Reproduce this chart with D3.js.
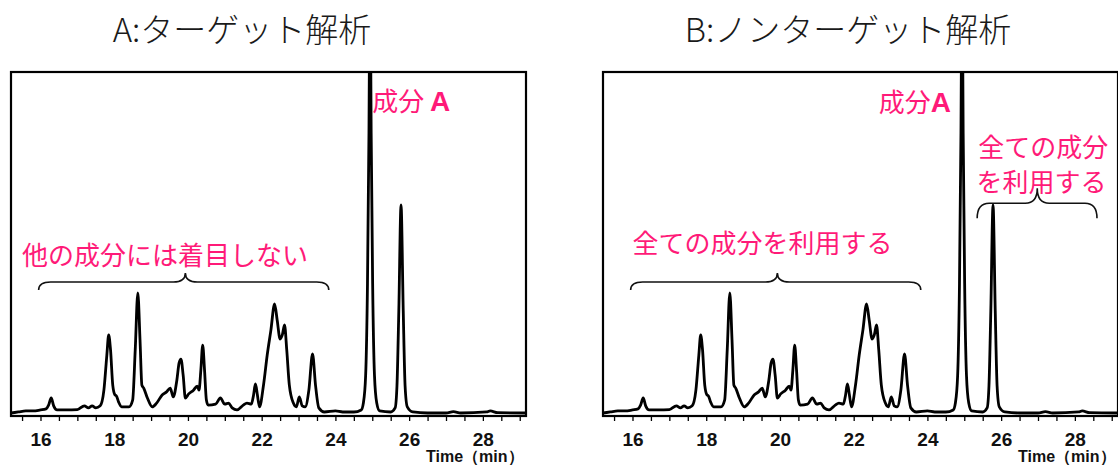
<!DOCTYPE html>
<html>
<head>
<meta charset="utf-8">
<script src="https://cdn.jsdelivr.net/npm/d3@7"></script>
<style>
  body { margin: 0; background: #fff; }
  svg { display: block; }
</style>
</head>
<body>
<svg id="chart" width="1118" height="465"></svg>
<script>
// chromatogram trace (time in min, relative intensity, 100 = top of frame)
var times = [15.20, 15.40, 15.60, 15.80, 16.00, 16.15, 16.22, 16.29, 16.36, 16.45, 16.70, 17.00, 17.19, 17.30,
  17.40, 17.50, 17.62, 17.72, 17.80, 17.85, 17.90, 17.96, 18.02, 18.06, 18.12, 18.20, 18.40, 18.50, 18.57,
  18.64, 18.70, 18.75, 18.80, 18.90, 19.03, 19.15, 19.30, 19.42, 19.52, 19.60, 19.70, 19.76, 19.81, 19.87,
  19.93, 20.02, 20.15, 20.25, 20.30, 20.35, 20.40, 20.45, 20.50, 20.55, 20.75, 20.88, 21.00, 21.10, 21.20,
  21.33, 21.50, 21.60, 21.72, 21.78, 21.83, 21.88, 21.94, 22.05, 22.15, 22.25, 22.35, 22.42, 22.50, 22.56,
  22.62, 22.68, 22.75, 22.86, 22.94, 23.02, 23.10, 23.18, 23.28, 23.38, 23.46, 23.55, 23.70, 24.00, 24.20,
  24.50, 24.70, 24.76, 24.82, 24.87, 24.91, 24.94, 24.97, 25.01, 25.06, 25.12, 25.20, 25.50, 25.62, 25.67,
  25.72, 25.78, 25.84, 25.89, 25.95, 26.10, 26.50, 27.00, 27.20, 27.40, 28.10, 28.20, 28.40, 29.20];
var intensity = [0.0, 0.3, 0.6, 0.6, 0.9, 1.2, 2.3, 4.4, 2.0, 0.9, 0.9, 1.0, 2.1, 1.5,
  2.1, 1.5, 2.1, 6.7, 17.0, 22.9, 18.5, 8.2, 5.3, 5.0, 3.2, 1.8, 1.8, 3.8, 18.5,
  35.2, 21.4, 8.2, 7.3, 4.4, 1.8, 2.9, 5.3, 6.2, 7.3, 4.7, 9.7, 14.7, 15.8, 11.1,
  4.4, 5.6, 6.7, 7.9, 6.7, 12.6, 19.9, 12.6, 3.8, 2.3, 2.6, 4.4, 2.6, 2.9, 1.5,
  0.9, 2.3, 2.9, 2.6, 5.3, 8.5, 5.6, 1.8, 8.2, 17.0, 24.3, 32.0, 27.3, 21.7, 22.9,
  25.8, 18.5, 8.2, 2.9, 1.8, 4.7, 2.1, 1.8, 6.7, 17.3, 8.2, 1.5, 0.3, 0.6, 0.3,
  0.3, 0.9, 3.0, 11, 38, 82, 130, 82, 38, 11, 3, 0.6, 0.3, 1.5, 8,
  30, 61, 30, 8, 1.8, 0.3, 0.0, 0.0, 0.4, 0.0, 0.3, 0.6, 0.1, 0.0];

var minorTicks = d3.range(15.5, 29.01, 0.5);
var majorLabels = [16, 18, 20, 22, 24, 26, 28];
var titles = ["A:ターゲット解析", "B:ノンターゲット解析"];
var axisTitle = "Time（min）";

var pink = "#ff1a78";
var trace = times.map(function (t, i) { return [t, intensity[i]]; });

const svg = d3.select("#chart");
const plotW = 515, plotH = 344;
const panels = [{ left: 11, titleX: 242 }, { left: 603, titleX: 848 }];

const x = d3.scaleLinear().domain([15.2, 29.17]).range([0, plotW]);
const y = d3.scaleLinear().domain([0, 100]).range([341, 0]);

function bracePath(t0, t1, tm, level, drop, rise) {
    // curly brace, ends bent down, tip pointing up
    let x0 = x(t0), x1 = x(t1), xm = x(tm), yh = y(level);
    let r = 12;
    return "M" + x0 + "," + (yh + drop) +
        " Q" + x0 + "," + yh + " " + (x0 + r) + "," + yh +
        " L" + (xm - r) + "," + yh +
        " Q" + xm + "," + yh + " " + xm + "," + (yh - rise) +
        " Q" + xm + "," + yh + " " + (xm + r) + "," + yh +
        " L" + (x1 - r) + "," + yh +
        " Q" + x1 + "," + yh + " " + x1 + "," + (yh + drop);
}

panels.forEach(function (p, k) {
    svg.append("text")
        .attr("x", p.titleX)
        .attr("y", 42)
        .attr("text-anchor", "middle")
        .style("font-family", "'Noto Sans CJK JP', 'Noto Sans'")
        .style("font-weight", 300)
        .style("font-size", "33px")
        .style("fill", "#1a1a1a")
        .text(titles[k]);

    var g = svg.append("g").attr("transform", `translate(${p.left},72)`);

    g.append("clipPath").attr("id", "clip" + k)
        .append("rect").attr("width", plotW).attr("height", plotH);

    g.append("path")
        .datum(trace)
        .attr("clip-path", `url(#clip${k})`)
        .attr("fill", "none")
        .attr("stroke", "#000")
        .attr("stroke-width", 2.8)
        .attr("stroke-linejoin", "round")
        .attr("d", d3.line()
            .x(d => x(d[0]))
            .y(d => y(d[1]))
            .curve(d3.curveMonotoneX));

    g.append("rect")
        .attr("width", plotW)
        .attr("height", plotH)
        .attr("fill", "none")
        .attr("stroke", "#000")
        .attr("stroke-width", 2.2);

    var ax = g.append("g")
        .attr("transform", `translate(0,${plotH})`)
        .call(d3.axisBottom(x)
            .tickValues(minorTicks)
            .tickSize(5)
            .tickFormat(d => majorLabels.includes(d) ? d : ""));
    ax.select(".domain").remove();
    ax.selectAll("line").attr("stroke", "#000").attr("stroke-width", 1.3);
    ax.selectAll("text")
        .attr("y", 30)
        .attr("dy", 0)
        .style("font-family", "'Liberation Sans', Arial")
        .style("font-weight", "bold")
        .style("font-size", "19px")
        .style("fill", "#111");

    g.append("text")
        .attr("x", 415)
        .attr("y", plotH + 46)
        .style("font-family", "'Liberation Sans Narrow', 'Liberation Sans', Arial")
        .style("font-weight", "bold")
        .style("font-size", "16px")
        .style("fill", "#111")
        .text(axisTitle);

    var ann = g.append("g")
        .style("font-family", "'Noto Sans CJK JP'")
        .style("font-size", "26px")
        .style("fill", pink);

    // big brace over the minor peaks
    g.append("path")
        .attr("d", bracePath(15.95, 23.82, 19.93, 38.4, 8, 9))
        .attr("fill", "none")
        .attr("stroke", "#111")
        .attr("stroke-width", 1.6);

    if (k === 0) {
        var a = ann.append("text").attr("x", x(25.0)).attr("y", 39);
        a.append("tspan").text("成分 ");
        a.append("tspan").style("font-weight", "bold").style("font-family", "'Liberation Sans Narrow', 'Liberation Sans'").style("font-size", "28px").text("A");
        ann.append("text").attr("x", x(15.5)).attr("y", 193).text("他の成分には着目しない");
    } else {
        var b = ann.append("text").attr("x", x(22.68)).attr("y", 40);
        b.append("tspan").text("成分");
        b.append("tspan").style("font-weight", "bold").style("font-family", "'Liberation Sans Narrow', 'Liberation Sans'").style("font-size", "28px").text("A");
        ann.append("text").attr("x", x(16.0)).attr("y", 181).text("全ての成分を利用する");
        ann.append("text").attr("x", x(25.38)).attr("y", 85).text("全ての成分");
        ann.append("text").attr("x", x(25.33)).attr("y", 120).text("を利用する");
        g.append("path")
            .attr("d", bracePath(25.35, 28.6, 26.98, 61.5, 15, 15))
            .attr("fill", "none")
            .attr("stroke", "#111")
            .attr("stroke-width", 1.6);
    }
});
</script>
</body>
</html>
